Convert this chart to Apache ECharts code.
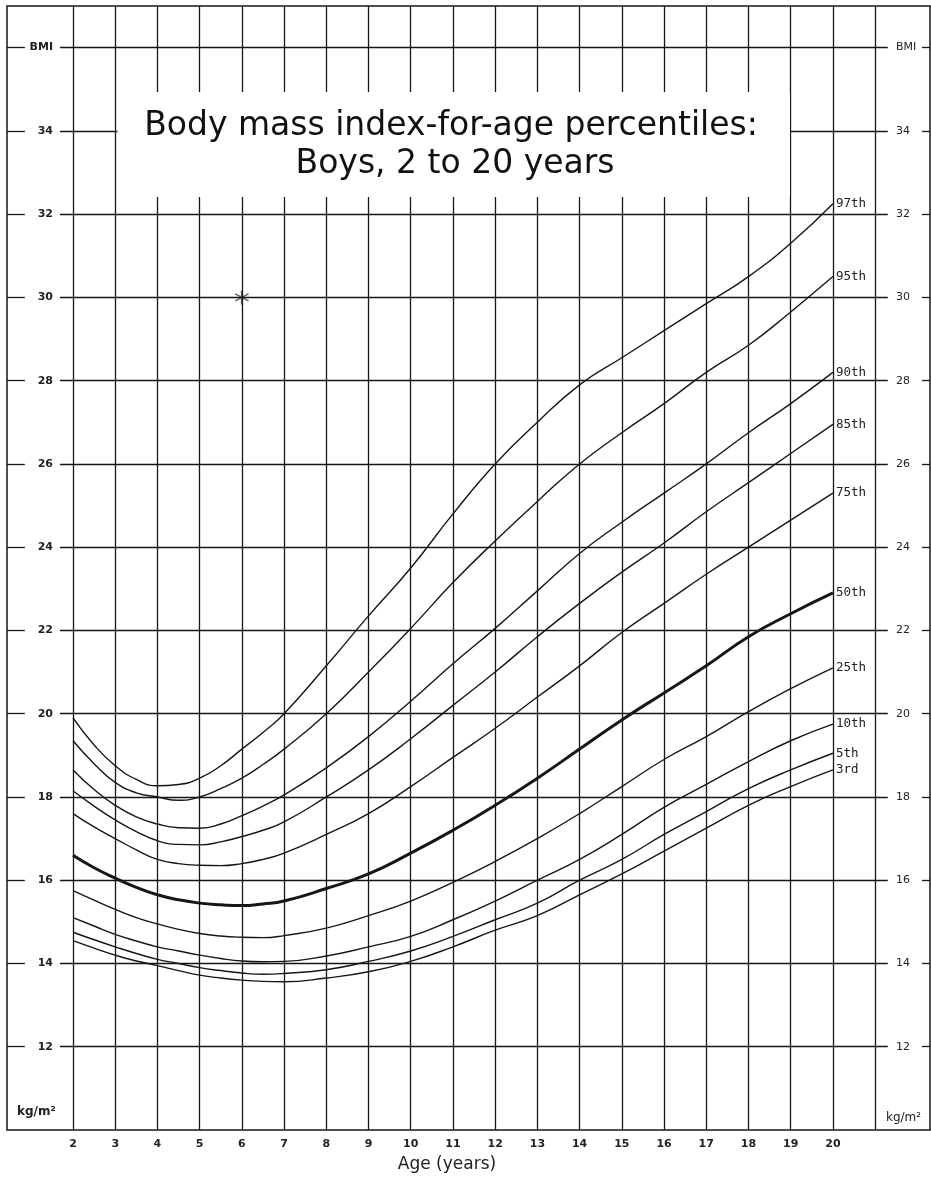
<!DOCTYPE html>
<html>
<head>
<meta charset="utf-8">
<title>BMI-for-age percentiles: Boys</title>
<script src="https://cdn.jsdelivr.net/npm/echarts@6/dist/echarts.min.js"></script>
<style>
  html, body { margin: 0; padding: 0; background: #fff; }
  #chart { width: 931px; height: 1179px; }
</style>
</head>
<body>
<div id="chart"></div>
<script>
// 年龄（曲线的取值点，幼儿段加了半岁点）
var ages = [2, 2.5, 3, 3.5, 4, 4.5, 5, 5.5, 6, 6.5, 7, 8, 9, 10, 11, 12, 13, 14, 15, 16, 17, 18, 19, 20];
// 百分位曲线（BMI, kg/m²）
var p97 = [19.9, 19.25, 18.75, 18.42, 18.27, 18.3, 18.45, 18.75, 19.15, 19.55, 20.0, 21.15, 22.35, 23.5, 24.8, 26.0, 27.0, 27.9, 28.55, 29.2, 29.85, 30.5, 31.3, 32.25];
var p95 = [19.35, 18.8, 18.35, 18.1, 18.0, 17.92, 18.0, 18.2, 18.45, 18.78, 19.15, 20.0, 21.0, 22.05, 23.15, 24.15, 25.1, 26.0, 26.75, 27.45, 28.2, 28.85, 29.65, 30.5];
var p90 = [18.65, 18.18, 17.8, 17.52, 17.35, 17.26, 17.25, 17.35, 17.55, 17.78, 18.05, 18.7, 19.45, 20.3, 21.2, 22.05, 22.95, 23.85, 24.6, 25.3, 26.0, 26.75, 27.45, 28.2];
var p85 = [18.15, 17.78, 17.45, 17.17, 16.95, 16.86, 16.85, 16.92, 17.05, 17.2, 17.4, 18.0, 18.65, 19.4, 20.2, 21.0, 21.85, 22.65, 23.4, 24.1, 24.85, 25.55, 26.25, 26.95];
var p75 = [17.6, 17.28, 17.0, 16.73, 16.5, 16.4, 16.36, 16.35, 16.4, 16.5, 16.65, 17.1, 17.6, 18.25, 18.95, 19.65, 20.4, 21.15, 21.95, 22.65, 23.35, 24.0, 24.65, 25.3];
var p50 = [16.6, 16.3, 16.05, 15.83, 15.65, 15.53, 15.45, 15.41, 15.39, 15.43, 15.5, 15.8, 16.15, 16.65, 17.2, 17.8, 18.45, 19.15, 19.85, 20.5, 21.15, 21.85, 22.4, 22.9];
var p25 = [15.75, 15.52, 15.3, 15.1, 14.95, 14.82, 14.72, 14.66, 14.63, 14.62, 14.67, 14.85, 15.15, 15.5, 15.95, 16.45, 17.0, 17.6, 18.25, 18.9, 19.45, 20.05, 20.6, 21.1];
var p10 = [15.1, 14.9, 14.7, 14.54, 14.4, 14.3, 14.2, 14.12, 14.06, 14.04, 14.05, 14.18, 14.4, 14.65, 15.05, 15.5, 16.0, 16.5, 17.1, 17.75, 18.3, 18.85, 19.35, 19.75];
var p5 = [14.75, 14.57, 14.4, 14.24, 14.1, 14.0, 13.9, 13.83, 13.77, 13.74, 13.76, 13.85, 14.05, 14.3, 14.65, 15.05, 15.45, 16.0, 16.5, 17.1, 17.65, 18.2, 18.65, 19.05];
var p3 = [14.55, 14.37, 14.2, 14.06, 13.95, 13.83, 13.72, 13.65, 13.6, 13.57, 13.56, 13.65, 13.8, 14.05, 14.4, 14.8, 15.15, 15.65, 16.15, 16.7, 17.25, 17.8, 18.25, 18.65];
var pctNames = ['97th', '95th', '90th', '85th', '75th', '50th', '25th', '10th', '5th', '3rd'];
var pctData = [p97, p95, p90, p85, p75, p50, p25, p10, p5, p3];
// 横轴刻度标签
var ageTicks = [2, 3, 4, 5, 6, 7, 8, 9, 10, 11, 12, 13, 14, 15, 16, 17, 18, 19, 20];
// 竖线（每一岁）和横线（每 2 个单位）
var yearLines = [2, 3, 4, 5, 6, 7, 8, 9, 10, 11, 12, 13, 14, 15, 16, 17, 18, 19, 20, 21];
var bmiLines = [12, 14, 16, 18, 20, 22, 24, 26, 28, 30, 32, 34, 36];
// 图上手画的星号（6 岁, BMI 30）
var markAge = [6];
var markBmi = [30];

(function () {
    var myChart = echarts.init(document.getElementById('chart'));

    // 坐标范围（与原图的边框对齐）
    var XMIN = 0.437, XMAX = 22.3;
    var YMIN = 10, YMAX = 37;
    // 横线的断开位置（刻度短线 | 标签 | 主线 | 标签 | 短线）
    var XL1 = 0.86, XL2 = 1.69, XR1 = 21.3, XR2 = 22.11;

    var ink = '#161616';

    // 竖线
    var vLines = yearLines.map(function (a) {
        return [{ coord: [a, YMIN] }, { coord: [a, YMAX] }];
    });
    // 横线
    var hLines = [];
    bmiLines.forEach(function (b) {
        hLines.push([{ coord: [XMIN, b] }, { coord: [XL1, b] }]);
        hLines.push([{ coord: [XL2, b] }, { coord: [XR1, b] }]);
        hLines.push([{ coord: [XR2, b] }, { coord: [XMAX, b] }]);
    });

    var series = [{
        name: 'grid',
        type: 'line',
        data: [],
        silent: true,
        markLine: {
            silent: true,
            animation: false,
            symbol: ['none', 'none'],
            label: { show: false },
            lineStyle: { color: ink, width: 1.3, type: 'solid' },
            emphasis: { disabled: true },
            data: vLines.concat(hLines)
        }
    }];

    pctData.forEach(function (arr, i) {
        series.push({
            name: pctNames[i],
            type: 'line',
            smooth: 0.5,
            symbol: 'none',
            silent: true,
            z: 3,
            data: ages.map(function (a, j) { return [a, arr[j]]; }),
            lineStyle: { color: ink, width: pctNames[i] === '50th' ? 3 : 1.4 },
            endLabel: {
                show: true,
                formatter: '{a}',
                distance: 3,
                fontFamily: 'DejaVu Sans Mono',
                fontSize: 12.5,
                color: '#222'
            }
        });
    });

    // 星号
    series.push({
        name: 'mark',
        type: 'scatter',
        z: 4,
        silent: true,
        symbol: 'path://M-1.3,-10L1.3,-10L1.3,10L-1.3,10Z M8.16,5.87L-9.16,-4.13L-8.16,-5.87L9.16,4.13Z M-9.16,4.13L8.16,-5.87L9.16,-4.13L-8.16,5.87Z',
        symbolSize: 14,
        itemStyle: { color: '#3e3e3e' },
        data: markAge.map(function (a, i) { return [a, markBmi[i]]; })
    });

    var yLabel = function (v) {
        if (v === 36) return 'BMI';
        if (v >= 12 && v <= 34) return String(v);
        return '';
    };

    var option = {
        animation: false,
        backgroundColor: '#fff',
        grid: {
            left: 7,
            right: 1,
            top: 6,
            bottom: 49,
            show: true,
            backgroundColor: 'transparent',
            borderColor: ink,
            borderWidth: 1.5
        },
        xAxis: {
            type: 'value',
            min: XMIN,
            max: XMAX,
            axisLine: { show: false },
            axisTick: { show: false },
            splitLine: { show: false },
            axisLabel: {
                customValues: ageTicks,
                margin: 9,
                fontFamily: 'DejaVu Sans',
                fontWeight: 'bold',
                fontSize: 11,
                color: '#222'
            }
        },
        yAxis: [{
            type: 'value',
            position: 'left',
            min: YMIN,
            max: YMAX,
            interval: 2,
            axisLine: { show: false },
            axisTick: { show: false },
            splitLine: { show: false },
            axisLabel: {
                inside: true,
                margin: 46,
                align: 'right',
                fontFamily: 'DejaVu Sans',
                fontWeight: 'bold',
                fontSize: 11,
                color: '#222',
                formatter: yLabel
            }
        }, {
            type: 'value',
            position: 'right',
            min: YMIN,
            max: YMAX,
            interval: 2,
            axisLine: { show: false },
            axisTick: { show: false },
            splitLine: { show: false },
            axisLabel: {
                inside: true,
                margin: 34,
                align: 'left',
                fontFamily: 'DejaVu Sans',
                fontSize: 11,
                color: '#222',
                formatter: yLabel
            }
        }],
        graphic: [
            // 标题白框（遮住网格线）
            {
                type: 'rect',
                z: 100,
                shape: { x: 117.5, y: 92, width: 672.5, height: 105 },
                style: { fill: '#fff' }
            },
            {
                type: 'text',
                z: 101,
                x: 451,
                y: 126,
                style: {
                    text: 'Body mass index-for-age percentiles:',
                    font: '33px "DejaVu Sans"',
                    fill: '#111',
                    textAlign: 'center',
                    textVerticalAlign: 'middle'
                }
            },
            {
                type: 'text',
                z: 101,
                x: 455,
                y: 164,
                style: {
                    text: 'Boys, 2 to 20 years',
                    font: '33px "DejaVu Sans"',
                    fill: '#111',
                    textAlign: 'center',
                    textVerticalAlign: 'middle'
                }
            },
            {
                type: 'text',
                x: 17,
                y: 1112,
                style: {
                    text: 'kg/m²',
                    font: 'bold 12px "DejaVu Sans"',
                    fill: '#222',
                    textVerticalAlign: 'middle'
                }
            },
            {
                type: 'text',
                x: 886,
                y: 1118,
                style: {
                    text: 'kg/m²',
                    font: '12px "DejaVu Sans"',
                    fill: '#222',
                    textVerticalAlign: 'middle'
                }
            },
            {
                type: 'text',
                x: 447,
                y: 1165,
                style: {
                    text: 'Age (years)',
                    font: '17px "DejaVu Sans"',
                    fill: '#222',
                    textAlign: 'center',
                    textVerticalAlign: 'middle'
                }
            }
        ],
        series: series
    };

    myChart.setOption(option);
    window.addEventListener('resize', function () {
        myChart.resize();
    });
})();
</script>
</body>
</html>
